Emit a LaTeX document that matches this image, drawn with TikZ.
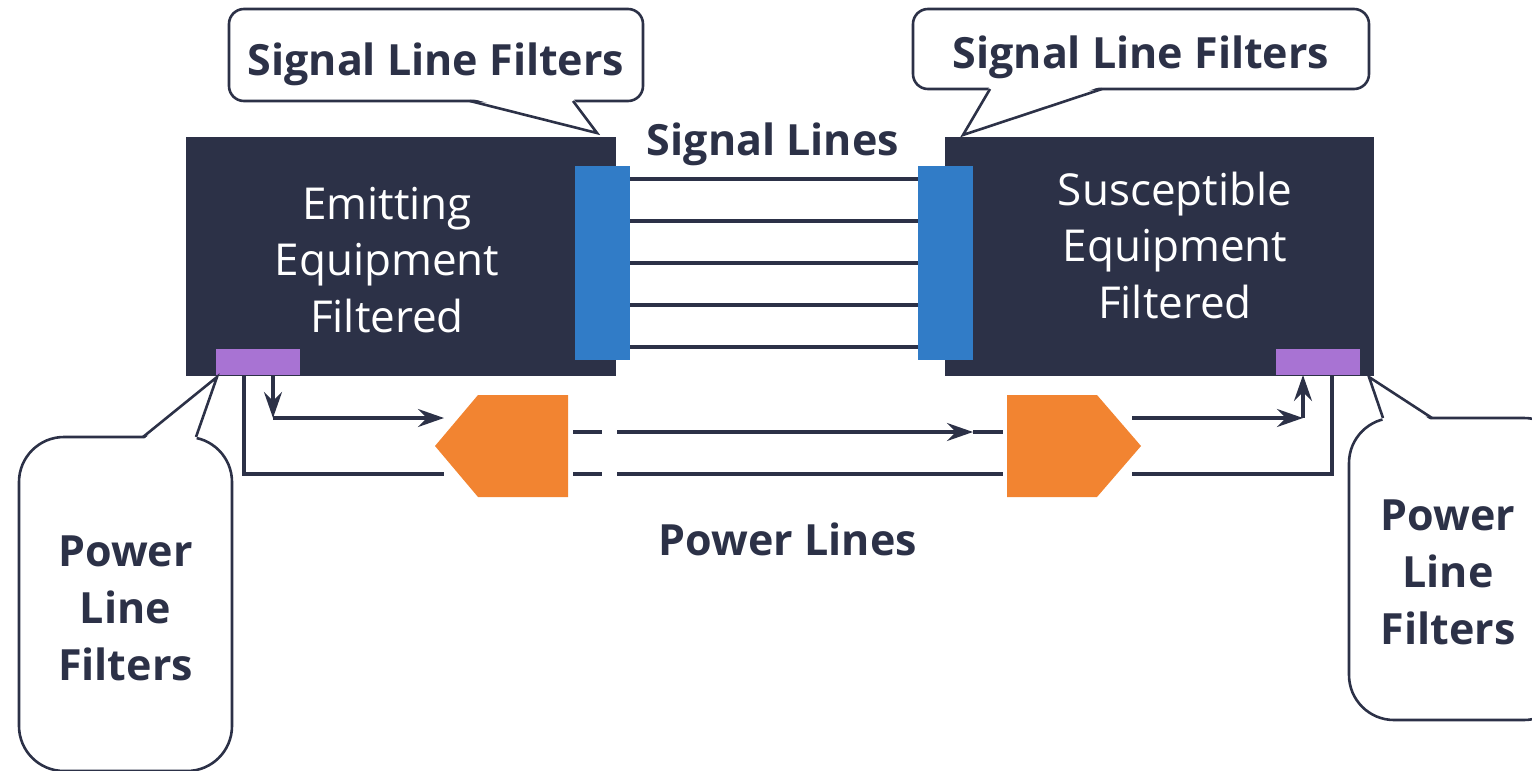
\documentclass[tikz,border=0pt]{standalone}
\usepackage{fontspec}
\setmainfont{Open Sans}
\usetikzlibrary{arrows.meta}
\definecolor{navy}{HTML}{2C3147}
\definecolor{fblue}{HTML}{317CC7}
\definecolor{fpurple}{HTML}{A873D3}
\definecolor{forange}{HTML}{F28431}
\begin{document}
\begin{tikzpicture}[x=1pt,y=-1pt,
  equip/.style={fill=navy, draw=none, inner sep=0pt},
  etext/.style={text=white, align=center, font=\fontsize{44}{56.5}\selectfont},
  sfilter/.style={fill=fblue, draw=none, inner sep=0pt, minimum width=55pt, minimum height=194pt},
  pfilter/.style={fill=fpurple, draw=none, inner sep=0pt, minimum width=84pt, minimum height=26pt},
  wire/.style={draw=navy, line width=3.2pt},
  arr/.style={wire, -{Stealth[length=26pt,width=18pt,inset=9pt]}},
  cbox/.style={draw=navy, fill=white, line width=2.6pt, inner sep=0pt},
  cline/.style={draw=navy, line width=2.6pt, line join=miter},
  ctext/.style={text=navy, align=center, font=\bfseries\fontsize{43}{57}\selectfont},
  lbl/.style={text=navy, font=\bfseries\fontsize{43}{57}\selectfont}
]
\useasboundingbox (0,0) rectangle (1532,771);
\clip (0,0) rectangle (1532,771);

% equipment boxes
\node[equip, minimum width=430pt, minimum height=239pt] (emit) at (401,256.5) {};
\node[etext] (emitT) at (387,260) {Emitting\\Equipment\\Filtered};
\node[equip, minimum width=429pt, minimum height=239pt] (susc) at (1159.5,256.5) {};
\node[etext] (suscT) at (1175,245) {Susceptible\\Equipment\\Filtered};

% signal line filters
\node[sfilter] (sfL) at (602.5,263) {};
\node[sfilter] (sfR) at (945.5,263) {};
\foreach \yy in {179,221,263,305,347}
  \draw[wire] (sfL.east |- 0,\yy) -- (sfR.west |- 0,\yy);

% power line filters
\node[pfilter] (pfL) at (258,362) {};
\node[pfilter] (pfR) at (1318,362) {};

% orange power filters
\fill[forange] (435,446) -- (478,395) -- (568,395) -- (568,497) -- (478,497) -- cycle;
\fill[forange] (1007,395) -- (1097,395) -- (1141,446) -- (1097,497) -- (1007,497) -- cycle;
\coordinate (oLa) at (444,418);
\coordinate (oLb) at (444,474);
\coordinate (oRa) at (1132,418);
\coordinate (oRb) at (1132,474);

% left power wiring
\coordinate (pl1) at (273,375);
\coordinate (pl2) at (273,418);
\coordinate (pl3) at (244,375);
\draw[arr] (pl1) -- (pl2);
\draw[arr] (pl2) -- (oLa);
\draw[wire] (pl3) -- (244,474) -- (oLb);

% right power wiring
\coordinate (pr2) at (1303,418);
\coordinate (pr1) at (1303,375);
\coordinate (pr3) at (1332,375);
\draw[arr] (oRa) -- (pr2);
\draw[arr] (pr2) -- (pr1);
\draw[wire] (oRb) -- (1332,474) -- (pr3);

% middle power lines (broken)
\coordinate (m1) at (573,432); \coordinate (m2) at (602,432);
\coordinate (m3) at (617,432); \coordinate (m4) at (973,432);
\coordinate (m5) at (1003,432);
\coordinate (n1) at (573,474); \coordinate (n2) at (602,474);
\coordinate (n3) at (617,474); \coordinate (n4) at (1003,474);
\draw[wire] (m1) -- (m2);
\draw[arr] (m3) -- (m4);
\draw[wire] (m4) -- (m5);
\draw[wire] (n1) -- (n2);
\draw[wire] (n3) -- (n4);

% labels
\node[lbl, anchor=base] (sigL) at (773,155) {Signal Lines};
\node[lbl, anchor=base] (powL) at (788,555) {Power Lines};

% callout: top-left
\node[cbox, rounded corners=15pt, minimum width=414pt, minimum height=92pt] (slfL) at (436,55) {};
\fill[white] (470,98) -- (597,133) -- (573,98) -- cycle;
\coordinate (tipA) at (597,133);
\draw[cline] (470,101) -- (tipA) -- (573,101);
\node[ctext, anchor=base] at (436,75) {Signal Line Filters};

% callout: top-right
\node[cbox, rounded corners=15pt, minimum width=456pt, minimum height=80pt] (slfR) at (1141,49) {};
\fill[white] (990,86) -- (963,135) -- (1102,86) -- cycle;
\coordinate (tipB) at (963,135);
\draw[cline] (990,89) -- (tipB) -- (1102,89);
\node[ctext, anchor=base] at (1141,68) {Signal Line Filters};

% callout: bottom-left
\node[cbox, rounded corners=45pt, minimum width=213pt, minimum height=334pt] (plfL) at (125.5,604) {};
\fill[white] (143,440) -- (217,377) -- (196,440) -- cycle;
\coordinate (tipC) at (217,377);
\draw[cline] (143,437) -- (tipC) -- (196,437);
\node[ctext] at (125.5,608) {Power\\Line\\Filters};

% callout: bottom-right
\node[cbox, rounded corners=45pt, minimum width=220pt, minimum height=302pt] (plfR) at (1459,569) {};
\fill[white] (1383,421) -- (1369,377) -- (1432,421) -- cycle;
\coordinate (tipD) at (1369,377);
\draw[cline] (1383,418) -- (tipD) -- (1432,418);
\node[ctext] at (1448,572) {Power\\Line\\Filters};
\end{tikzpicture}
\end{document}
